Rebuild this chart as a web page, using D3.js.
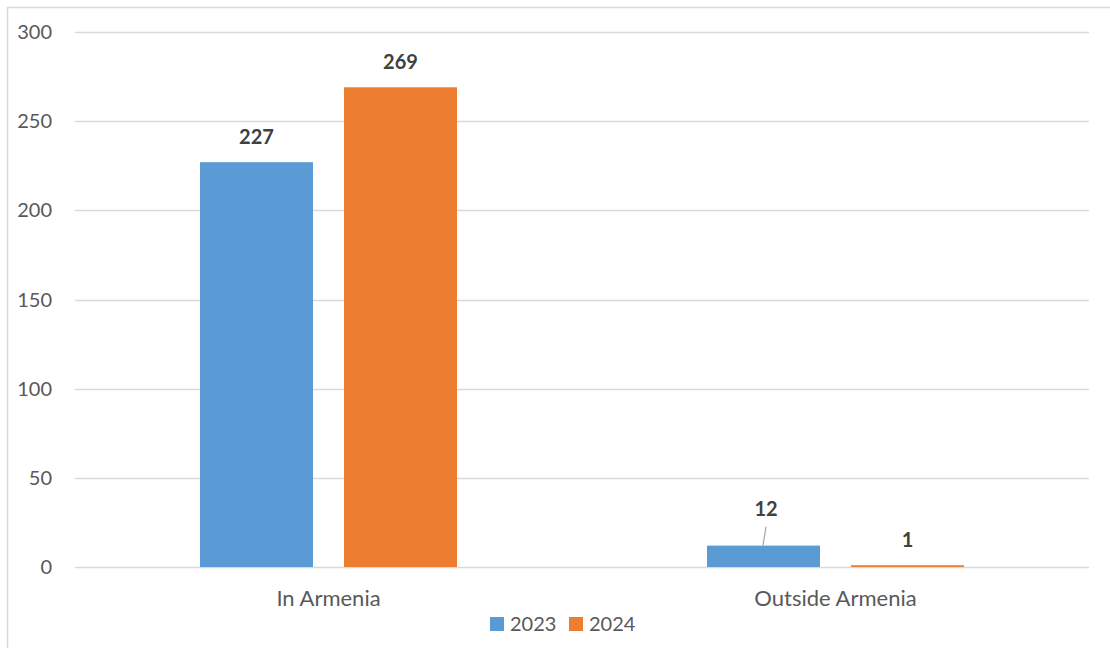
<!DOCTYPE html>
<html>
<head>
<meta charset="utf-8">
<script src="https://cdn.jsdelivr.net/npm/d3@7"></script>
<style>
  html, body { margin: 0; padding: 0; background: #fff; }
  svg { display: block; }
  text { font-family: Lato, "Open Sans", "Liberation Sans", sans-serif; }
</style>
</head>
<body>
<svg id="chart" width="1110" height="648"></svg>
<script>
// Chart data
const categories = ["In Armenia", "Outside Armenia"];
const seriesNames = ["2023", "2024"];
const values2023 = [227, 12];
const values2024 = [269, 1];
const yTicks = [0, 50, 100, 150, 200, 250, 300];
const colors = ["#5B9BD5", "#ED7D31"];

const svg = d3.select("#chart");
const W = 1110, H = 648;
const plot = { left: 75, right: 1089, top: 32, bottom: 567 };

// Chart area border
svg.append("rect")
  .attr("x", 7.5).attr("y", 7.5)
  .attr("width", W + 20).attr("height", H + 20)
  .attr("fill", "#fff")
  .attr("stroke", "#d9d9d9").attr("stroke-width", 1.5);

const x0 = d3.scaleBand().domain(categories).range([plot.left, plot.right]).paddingInner(0).paddingOuter(0);
const y = d3.scaleLinear().domain([0, 300]).range([plot.bottom, plot.top]);

// Gridlines
svg.append("g").selectAll("line").data(yTicks).join("line")
  .attr("x1", plot.left).attr("x2", plot.right)
  .attr("y1", d => Math.round(y(d)) + 0.5).attr("y2", d => Math.round(y(d)) + 0.5)
  .attr("stroke", "#d9d9d9").attr("stroke-width", 1.3);

// Y axis labels
svg.append("g").selectAll("text").data(yTicks).join("text")
  .attr("x", 52).attr("y", d => y(d))
  .attr("dy", "0.35em")
  .attr("text-anchor", "end")
  .attr("font-size", 20)
  .attr("fill", "#595959")
  .text(d => d);

// Bars within each category
const barW = 113, gap = 31;
const x1 = d3.scaleBand().domain(seriesNames)
  .range([-(barW + gap / 2), barW + gap / 2]).paddingInner(gap / (barW + gap)).paddingOuter(0);

const rows = categories.map((c, i) => ({
  cat: c,
  vals: [{ s: "2023", v: values2023[i] }, { s: "2024", v: values2024[i] }]
}));

const groups = svg.append("g").selectAll("g").data(rows).join("g")
  .attr("transform", d => `translate(${x0(d.cat) + x0.bandwidth() / 2},0)`);

groups.selectAll("rect").data(d => d.vals).join("rect")
  .attr("x", d => x1(d.s))
  .attr("width", x1.bandwidth())
  .attr("y", d => y(d.v))
  .attr("height", d => y(0) - y(d.v))
  .attr("fill", (d, i) => colors[i]);

// Value labels
const labelOffset = { "Outside Armenia|2023": 12 };
groups.each(function (row) {
  const g = d3.select(this);
  row.vals.forEach(d => {
    const cx = x1(d.s) + x1.bandwidth() / 2;
    const extra = labelOffset[row.cat + "|" + d.s] || 0;
    const ly = y(d.v) - 25 - extra;
    if (extra) {
      // leader line from label to bar
      g.append("line")
        .attr("x1", cx + 2.5).attr("y1", ly + 18)
        .attr("x2", cx - 0.5).attr("y2", y(d.v))
        .attr("stroke", "#a6a6a6").attr("stroke-width", 1.2);
    }
    g.append("text")
      .attr("x", cx + (extra ? 2.5 : 0)).attr("y", ly)
      .attr("dy", "0.35em")
      .attr("text-anchor", "middle")
      .attr("font-size", 20).attr("font-weight", "bold")
      .attr("fill", "#404040")
      .text(d.v);
  });
});

// Category labels
svg.append("g").selectAll("text").data(categories).join("text")
  .attr("x", d => x0(d) + x0.bandwidth() / 2)
  .attr("y", 598)
  .attr("dy", "0.35em")
  .attr("text-anchor", "middle")
  .attr("font-size", 22)
  .attr("fill", "#595959")
  .text(d => d);

// Legend
const legend = svg.append("g");
const legendItems = [{ name: seriesNames[0], x: 490 }, { name: seriesNames[1], x: 569 }];
legendItems.forEach((it, i) => {
  legend.append("rect").attr("x", it.x).attr("y", 617).attr("width", 14).attr("height", 14).attr("fill", colors[i]);
  legend.append("text").attr("x", it.x + 20).attr("y", 624).attr("dy", "0.35em")
    .attr("font-size", 20).attr("fill", "#595959").text(it.name);
});
</script>
</body>
</html>
